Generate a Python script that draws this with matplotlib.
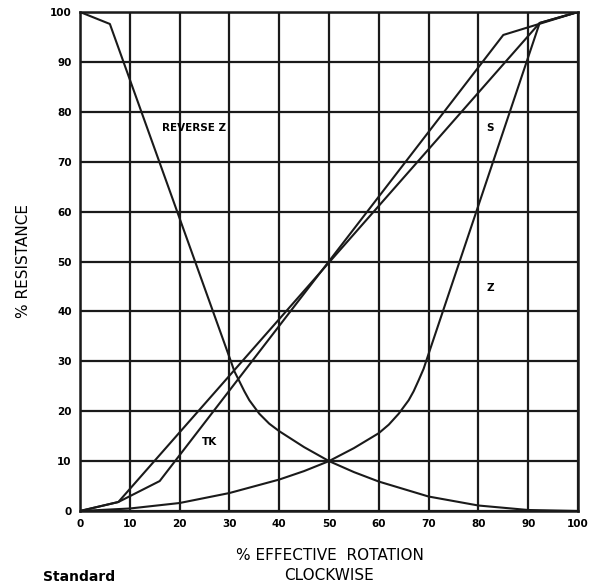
import matplotlib.pyplot as plt
from matplotlib import font_manager

# taper curves, % resistance vs % rotation
z_x = [0, 10, 20, 30, 40, 45, 50, 55, 60, 62, 64, 66, 67, 68, 69, 69.5, 92.3, 100]
z_y = [0, 0.5, 1.6, 3.6, 6.3, 8.0, 10, 12.6, 15.6, 17.3, 19.5, 22.2, 24.0, 26.2, 28.5, 30, 97.8, 100]

rz_x = [0, 6, 30.3, 31, 32, 33, 34, 36, 38, 40, 45, 50, 55, 60, 70, 80, 90, 100]
rz_y = [100, 97.6, 30, 28, 26, 24, 22.2, 19.5, 17.5, 16, 12.8, 10, 7.8, 5.9, 2.9, 1.1, 0.2, 0]

s_x = [0, 7.7, 92.3, 100]
s_y = [0, 1.8, 97.8, 100]

tk_x = [0, 7.7, 16, 85, 100]
tk_y = [0, 1.8, 6, 95.4, 100]

ticks = list(range(0, 101, 10))

names = {f.name for f in font_manager.fontManager.ttflist}
narrow = 'Liberation Sans Narrow' if 'Liberation Sans Narrow' in names else 'DejaVu Sans'

fig = plt.figure(figsize=(5.89, 5.85), dpi=100)
ax = fig.add_axes([80 / 589, 74 / 585, 498 / 589, 499 / 585])

for x, y in [(z_x, z_y), (rz_x, rz_y), (s_x, s_y), (tk_x, tk_y)]:
    ax.plot(x, y, color='#1a1a1a', lw=1.5, solid_joinstyle='round')

ax.set_xlim(0, 100)
ax.set_ylim(0, 100)
ax.set_xticks(ticks)
ax.set_yticks(ticks)
ax.grid(True, color='#1a1a1a', lw=1.6)
ax.tick_params(length=0, pad=6)
for lab in ax.get_xticklabels() + ax.get_yticklabels():
    lab.set_fontweight('bold')
    lab.set_fontsize(7.5)
for sp in ax.spines.values():
    sp.set_linewidth(1.8)
    sp.set_color('#1a1a1a')

lab_kw = dict(fontsize=7.5, fontweight='bold', family=narrow, ha='center', va='center')
ax.text(23, 76.8, 'REVERSE Z', **lab_kw)
ax.text(82.3, 76.8, 'S', **lab_kw)
ax.text(82.3, 44.7, 'Z', **lab_kw)
ax.text(26, 13.8, 'TK', **lab_kw)

fig.text(24 / 589, 1 - 261 / 585, '% RESISTANCE', rotation=90, ha='center', va='center',
         fontsize=11, family=narrow)
fig.text(330 / 589, 1 - 555 / 585, '% EFFECTIVE  ROTATION', ha='center', va='center',
         fontsize=11, family=narrow)
fig.text(329 / 589, 1 - 575 / 585, 'CLOCKWISE', ha='center', va='center',
         fontsize=11, family=narrow)
fig.text(43 / 589, 1 / 585, 'Standard', ha='left', va='bottom',
         fontsize=10, fontweight='bold')

fig.savefig('out.png', dpi=100)
